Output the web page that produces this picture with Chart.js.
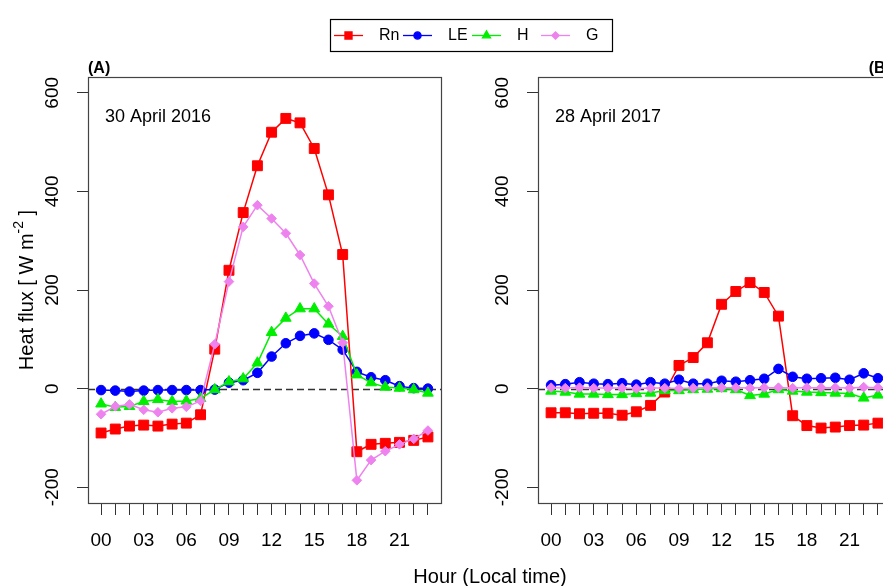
<!DOCTYPE html>
<html>
<head>
<meta charset="utf-8">
<script src="https://cdn.jsdelivr.net/npm/chart.js@4/dist/chart.umd.min.js"></script>
<style>
  html, body { margin:0; padding:0; background:#fff; }
  #wrap { position:relative; width:883px; height:586px; overflow:hidden; }
  #wrap canvas { position:absolute; left:0; top:0; }
</style>
</head>
<body>
<div id="wrap">
  <canvas id="chartA" width="883" height="586"></canvas>
  <canvas id="chartB" width="900" height="586"></canvas>
</div>
<script>
/* ===== heat flux diurnal panels ===== */

const HOURS = [0,1,2,3,4,5,6,7,8,9,10,11,12,13,14,15,16,17,18,19,20,21,22,23];
const X_TICK_HOURS  = [0,3,6,9,12,15,18,21];
const X_TICK_LABELS = ['00','03','06','09','12','15','18','21'];
const Y_TICKS = [-200,0,200,400,600];

const SERIES = ['Rn','LE','H','G'];

// (A) 30 April 2016
const RN_2016 = [-90,-82,-76,-74,-76,-72,-70,-53,80,240,357,452,520,548,539,487,393,272,-128,-113,-111,-109,-105,-98];
const LE_2016 = [-3,-4,-6,-4,-3,-3,-3,-3,-2,12,17,32,65,92,107,112,99,79,34,23,17,5,1,0];
const H_2016  = [-31,-38,-36,-26,-22,-26,-25,-20,-2,14,20,52,114,143,162,162,131,106,28,12,3,1,-2,-9];
const G_2016  = [-52,-36,-32,-43,-48,-40,-37,-25,90,217,328,372,345,315,271,213,167,93,-186,-145,-127,-113,-102,-85];

// (B) 28 April 2017
const RN_2017 = [-49,-49,-51,-50,-50,-54,-47,-34,-7,47,63,93,171,197,215,195,147,-55,-75,-80,-78,-75,-74,-70];
const LE_2017 = [7,9,13,10,9,11,8,13,10,18,10,10,16,14,17,20,40,24,20,21,22,18,31,21];
const H_2017  = [-5,-7,-11,-11,-12,-12,-10,-9,-4,-4,-2,-1,0,-2,-14,-11,-2,-5,-7,-8,-9,-10,-19,-13];
const G_2017  = [2,1,2,1,1,1,0,1,1,0,1,2,2,2,1,2,2,1,2,2,2,1,3,2];

const COLORS = ['#ff0000','#0000ff','#00ee00','#ee82ee'];
const STYLES = ['rect','circle','triangle','rectRot'];
const RADII  = [7,4.8,6.2,4.8];
const LEG_RADII = [5,3.6,4.6,3.6];

const FONT = '"Liberation Sans", Arial, Helvetica, sans-serif';

function mkDatasets(cols){
  return cols.map((vals,i) => ({
    label: SERIES[i],
    data: HOURS.map((h,k) => ({x:h, y:vals[k]})),
    borderColor: COLORS[i],
    backgroundColor: COLORS[i],
    pointBackgroundColor: COLORS[i],
    pointBorderColor: COLORS[i],
    pointStyle: STYLES[i],
    pointRadius: RADII[i],
    pointBorderWidth: 1,
    borderWidth: 1.5,
    tension: 0,
    order: cols.length - i,   // later series drawn on top
    clip: false,
  }));
}

// box, zero line, panel tag and date
const frame = {
  id:'frame',
  beforeDatasetsDraw(chart, args, o){
    const {ctx, chartArea:a, scales:{y}} = chart;
    ctx.save();
    const y0 = Math.round(y.getPixelForValue(0)) + 0.5;
    ctx.strokeStyle = '#333'; ctx.lineWidth = 1.3; ctx.setLineDash([7,4]);
    ctx.beginPath(); ctx.moveTo(a.left, y0); ctx.lineTo(a.right, y0); ctx.stroke();
    ctx.setLineDash([]);
    ctx.strokeStyle = '#444'; ctx.lineWidth = 1.2;
    ctx.strokeRect(a.left + 0.5, a.top + 0.5, a.right - a.left, a.bottom - a.top);

    ctx.fillStyle = '#000';
    ctx.font = 'bold 16px ' + FONT;
    ctx.textBaseline = 'alphabetic';
    if (o.tagRight) { ctx.textAlign = 'right'; ctx.fillText(o.tag, a.right, a.top - 4); }
    else { ctx.textAlign = 'left'; ctx.fillText(o.tag, a.left, a.top - 4); }

    ctx.font = '18px ' + FONT;
    ctx.textAlign = 'left'; ctx.textBaseline = 'middle';
    ctx.fillText(o.date, a.left + 17, a.top + 40);
    ctx.restore();
  }
};

// figure-level legend and axis titles (drawn by panel A)
const figText = {
  id:'figText',
  afterDraw(chart, args, o){
    if (!o.show) return;
    const {ctx, chartArea:a} = chart;
    ctx.save();
    // legend
    ctx.strokeStyle = '#000'; ctx.lineWidth = 1.2;
    ctx.strokeRect(330.5, 19.5, 282, 32);
    const ly = 35.5;
    SERIES.forEach((name,i) => {
      const x0 = 334 + i*69;
      ctx.strokeStyle = COLORS[i]; ctx.fillStyle = COLORS[i]; ctx.lineWidth = 1.3;
      ctx.beginPath(); ctx.moveTo(x0, ly); ctx.lineTo(x0 + 29, ly); ctx.stroke();
      Chart.helpers.drawPoint(ctx, {pointStyle:STYLES[i], radius:LEG_RADII[i], rotation:0, borderWidth:1}, x0 + 14.5, ly);
      ctx.fillStyle = '#000';
      ctx.font = '16px ' + FONT; ctx.textAlign = 'left'; ctx.textBaseline = 'middle';
      ctx.fillText(name, x0 + 45, ly);
    });

    // x title
    ctx.font = '20px ' + FONT; ctx.textAlign = 'center'; ctx.textBaseline = 'middle';
    ctx.fillText('Hour (Local time)', 490, 577);

    // y title with superscript
    const main = 'Heat flux [ W m', sup = '-2', tail = ' ]';
    ctx.font = '20px ' + FONT;
    const w1 = ctx.measureText(main).width, w3 = ctx.measureText(tail).width;
    ctx.font = '14px ' + FONT;
    const w2 = ctx.measureText(sup).width;
    const total = w1 + w2 + w3;
    ctx.translate(27, (a.top + a.bottom) / 2);
    ctx.rotate(-Math.PI/2);
    ctx.textAlign = 'left'; ctx.textBaseline = 'middle';
    ctx.font = '20px ' + FONT;
    ctx.fillText(main, -total/2, 0);
    ctx.font = '14px ' + FONT;
    ctx.fillText(sup, -total/2 + w1, -8);
    ctx.font = '20px ' + FONT;
    ctx.fillText(tail, -total/2 + w1 + w2, 0);
    ctx.restore();
  }
};

function makePanel(id, cols, opt){
  return new Chart(document.getElementById(id), {
    type:'line',
    data:{ datasets: mkDatasets(cols) },
    plugins:[frame, figText],
    options:{
      responsive:false,
      animation:false,
      events:[],
      layout:{ padding: opt.padding },
      plugins:{
        legend:{display:false},
        tooltip:{enabled:false},
        frame:{ tag:opt.tag, tagRight:opt.tagRight, date:opt.date },
        figText:{ show:opt.figText },
      },
      scales:{
        x:{
          type:'linear', min:-0.92, max:23.92,
          afterBuildTicks: s => { s.ticks = HOURS.map(v => ({value:v})); },
          afterFit: s => { s.height = 83; },
          ticks:{
            autoSkip:false, maxRotation:0, minRotation:0, padding:14,
            color:'#000', font:{family:FONT, size:19},
            callback: v => { const i = X_TICK_HOURS.indexOf(v); return i >= 0 ? X_TICK_LABELS[i] : ''; }
          },
          grid:{ drawOnChartArea:false, drawTicks:true, tickLength:12, color:'#333', lineWidth:1 },
          border:{ display:false },
        },
        y:{
          min:-232, max:632,
          afterBuildTicks: s => { s.ticks = Y_TICKS.map(v => ({value:v})); },
          afterFit: s => { s.width = opt.yWidth; },
          ticks:{
            minRotation:90, maxRotation:90, crossAlign:'center', padding:5,
            color:'#000', font:{family:FONT, size:19},
          },
          grid:{ drawOnChartArea:false, drawTicks:true, tickLength:11, color:'#333', lineWidth:1 },
          border:{ display:false },
        }
      }
    }
  });
}

makePanel('chartA', [RN_2016, LE_2016, H_2016, G_2016], {
  padding:{left:0, top:77, right:442, bottom:0}, yWidth:88,
  tag:'(A)', tagRight:false, date:'30 April 2016', figText:true
});
makePanel('chartB', [RN_2017, LE_2017, H_2017, G_2017], {
  padding:{left:0, top:77, right:9, bottom:0}, yWidth:538,
  tag:'(B)', tagRight:true, date:'28 April 2017', figText:false
});
</script>
</body>
</html>
